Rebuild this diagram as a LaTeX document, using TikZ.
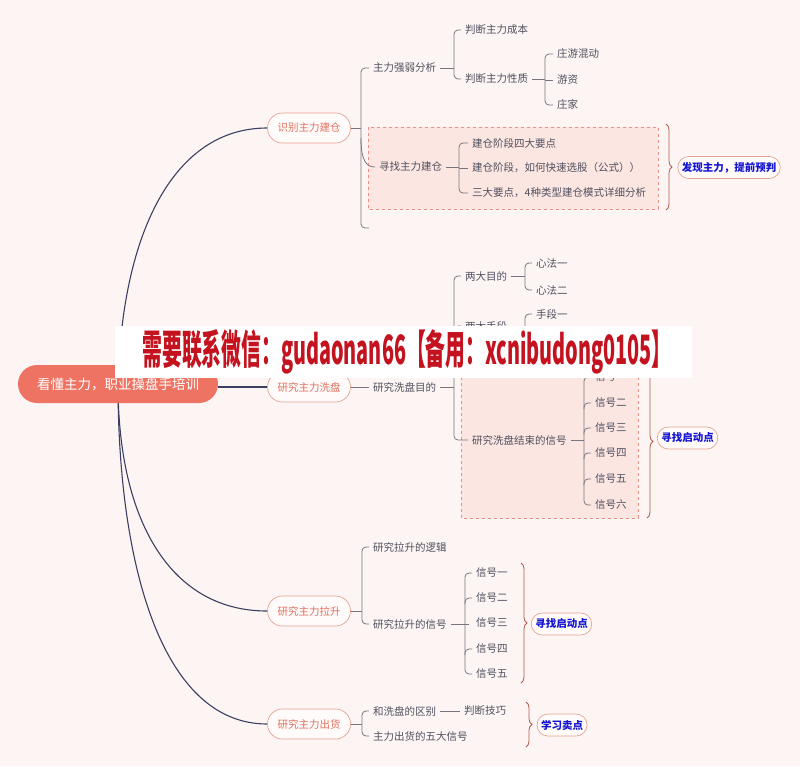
\documentclass[tikz,border=0pt]{standalone}
\usepackage{fontspec}
\setmainfont{Noto Sans CJK SC}
\usetikzlibrary{calc,decorations.pathreplacing}
\pgfdeclarelayer{bgfill}\pgfdeclarelayer{boxes}\pgfdeclarelayer{edges}\pgfdeclarelayer{front}
\pgfsetlayers{bgfill,boxes,edges,main,front}
\definecolor{bg}{HTML}{FDF5F3}
\definecolor{rootc}{HTML}{EE7363}
\definecolor{lonec}{HTML}{E8A292}
\definecolor{lonet}{HTML}{E2715F}
\definecolor{navy}{HTML}{3C3F62}
\definecolor{txt}{HTML}{4F4F5F}
\definecolor{lnk}{HTML}{77767F}
\definecolor{boxf}{HTML}{FCE6E2}
\definecolor{boxd}{HTML}{EA8F84}
\definecolor{brc}{HTML}{B65A4C}
\definecolor{blu}{HTML}{1414D2}
\definecolor{banr}{HTML}{C4121F}
\begin{document}
\begin{tikzpicture}[x=1pt,y=-1pt,
 rootbox/.style={rounded corners=19pt, fill=rootc, text=white, font=\fontsize{13.5}{15}\selectfont, minimum width=200, minimum height=38, inner sep=0pt},
 lone/.style={rounded corners=15pt, draw=lonec, fill=white!60!bg, text=lonet, line width=0.7pt, font=\fontsize{10.5}{12}\selectfont, minimum width=83, minimum height=30, inner sep=0pt},
 leaf/.style={anchor=west, inner xsep=4pt, inner ysep=1.5pt, text=txt, font=\fontsize{10.5}{12}\selectfont},
 tag/.style={rounded corners=11pt, draw=lonec, fill=white!60!bg, text=blu, font=\bfseries\fontsize{10.5}{12}\selectfont, line width=0.7pt, minimum height=22, inner xsep=4pt, inner ysep=0pt},
 mainln/.style={draw=navy, line width=1.1pt},
 subln/.style={draw=lnk, line width=0.8pt, rounded corners=4pt},
 dbox/.style={draw=boxd, fill=boxf, dashed, line width=0.8pt},
 bracestyle/.style={draw=brc, line width=0.8pt, decorate, decoration={brace, amplitude=6pt}},
]
\begin{pgfonlayer}{bgfill}
\fill[bg] (0,0) rectangle (800,766);
\end{pgfonlayer}
\useasboundingbox (0,0) rectangle (800,766);

% root and level-1
\node[rootbox] (root) at (118,384) {看懂主力，职业操盘手培训};
\node[lone] (n1) at (309,128) {识别主力建仓};
\node[lone] (n2) at (309,387) {研究主力洗盘};
\node[lone] (n3) at (309,611) {研究主力拉升};
\node[lone] (n4) at (309,724) {研究主力出货};

% branch 1
\node[leaf] (a1) at (369,68) {主力强弱分析};
\node[leaf] (a2) at (375,167) {寻找主力建仓};
\node[leaf] (a11) at (461,30) {判断主力成本};
\node[leaf] (a12) at (461,79) {判断主力性质};
\node[leaf] (a121) at (553,54) {庄游混动};
\node[leaf] (a122) at (553,80) {游资};
\node[leaf] (a123) at (553,105) {庄家};
\node[leaf] (a21) at (468,143) {建仓阶段四大要点};
\node[leaf] (a22) at (468,168) {建仓阶段，如何快速选股（公式））};
\node[leaf] (a23) at (468,193) {三大要点，4种类型建仓模式详细分析};

% branch 2
\node[leaf] (b1) at (369,387) {研究洗盘目的};
\node[leaf] (b11) at (461,276) {两大目的};
\node[leaf] (b12) at (461,326) {两大手段};
\node[leaf] (b13) at (468,440) {研究洗盘结束的信号};
\node[leaf] (b111) at (532,263) {心法一};
\node[leaf] (b112) at (532,290) {心法二};
\node[leaf] (b121) at (532,314) {手段一};
\node[leaf] (b131) at (591,377) {信号一};
\node[leaf] (b132) at (591,403) {信号二};
\node[leaf] (b133) at (591,428) {信号三};
\node[leaf] (b134) at (591,453) {信号四};
\node[leaf] (b135) at (591,479) {信号五};
\node[leaf] (b136) at (591,505) {信号六};

% branch 3
\node[leaf] (c1) at (369,547) {研究拉升的逻辑};
\node[leaf] (c2) at (369,624) {研究拉升的信号};
\node[leaf] (c21) at (472,573) {信号一};
\node[leaf] (c22) at (472,598) {信号二};
\node[leaf] (c23) at (472,623) {信号三};
\node[leaf] (c24) at (472,649) {信号四};
\node[leaf] (c25) at (472,674) {信号五};

% branch 4
\node[leaf] (d1) at (369,711) {和洗盘的区别};
\node[leaf] (d2) at (369,736) {主力出货的五大信号};
\node[leaf] (d11) at (460,711) {判断技巧};

% tags
\node[tag] (t1) at (729,167.5) {发现主力，提前预判};
\node[tag] (t2) at (687.5,438) {寻找启动点};
\node[tag] (t3) at (561.5,624) {寻找启动点};
\node[tag] (t4) at (562,725) {学习卖点};

% dashed boxes
\begin{pgfonlayer}{boxes}
\draw[dbox] (368,127) rectangle (658,209);
\draw[dbox] (461,365) rectangle (638,518);
\end{pgfonlayer}

\begin{pgfonlayer}{edges}
% main curves
\draw[mainln] (root.center) .. controls (122,230) and (175,128) .. (n1.west);
\draw[mainln] (root.east |- n2.west) -- (n2.west);
\draw[mainln] (root.center) .. controls (118,520) and (170,611) .. (n3.west);
\draw[mainln] (root.center) .. controls (118,560) and (160,724) .. (n4.west);

% branch 1 brackets
\coordinate (k1) at (361,128);
\coordinate (k1end) at (369,228);
\draw[subln] (n1.east) -- (k1);
\draw[subln] (a1.west) -| (k1) |- (k1end);
\draw[subln] ($(k1)+(0,10)$) .. controls ($(k1)+(0,34)$) and ($(a2.west)+(-8,0)$) .. (a2.west);
\coordinate (k2) at (454,68);
\draw[subln] (a1.east) -- (k2);
\draw[subln] (a11.west) -| (k2) |- (a12.west);
\coordinate (k3) at (545,79);
\draw[subln] (a12.east) -- (k3);
\draw[subln] (a121.west) -| (k3) |- (a123.west);
\draw[subln] (a122.west) -- (k3 |- a122.west);
\coordinate (k4) at (459,167);
\draw[subln] (a2.east) -- (k4);
\draw[subln] (a21.west) -| (k4) |- (a23.west);
\draw[subln] (a22.west) -- (k4 |- a22.west);

% branch 2 brackets
\draw[subln] (n2.east) -- (b1.west);
\coordinate (k5) at (454,387);
\draw[subln] (b1.east) -- (k5);
\draw[subln] (b11.west) -| (k5) |- (b13.west);
\draw[subln] (b12.west) -| ($(k5 |- b12.west)+(0,6)$);
\coordinate (k6) at (525,276);
\draw[subln] (b11.east) -- (k6);
\draw[subln] (b111.west) -| (k6) |- (b112.west);
\coordinate (k7) at (525,326);
\draw[subln] (b12.east) -- (k7);
\draw[subln] (b121.west) -| (k7) -- ++(0,14);
\coordinate (k8) at (584,440);
\draw[subln] (b13.east) -- (k8);
\draw[subln] (b131.west) -| (k8) |- (b136.west);
\foreach \n in {b132,b133,b134,b135}
  \draw[subln] (\n.west) -| ($(k8 |- \n.west)+(0,6)$);

% branch 3 brackets
\coordinate (k9) at (362,611);
\draw[subln] (n3.east) -- (k9);
\draw[subln] (c1.west) -| (k9) |- (c2.west);
\coordinate (k10) at (465,624);
\draw[subln] (c2.east) -- ($(k10)+(4,0)$);
\draw[subln] (c21.west) -| (k10) |- (c25.west);
\foreach \n in {c22,c24}
  \draw[subln] (\n.west) -| ($(k10 |- \n.west)+(0,6)$);

% branch 4 brackets
\coordinate (k11) at (362,724);
\draw[subln] (n4.east) -- (k11);
\draw[subln] (d1.west) -| (k11) |- (d2.west);
\draw[subln] (d1.east) -- (d11.west);

% braces
\coordinate (r1a) at (666,124); \coordinate (r1b) at (666,210);
\draw[bracestyle] (r1a) -- (r1b);
\coordinate (r2a) at (647,365); \coordinate (r2b) at (647,518);
\draw[bracestyle] (r2a) -- (r2b);
\coordinate (r3a) at (521,563); \coordinate (r3b) at (521,683);
\draw[bracestyle] (r3a) -- (r3b);
\coordinate (r4a) at (526,702); \coordinate (r4b) at (526,747);
\draw[bracestyle] (r4a) -- (r4b);
\end{pgfonlayer}

% overlay banner
\begin{pgfonlayer}{front}
\node[fill=white, minimum width=577, minimum height=52, inner sep=0pt] (banner) at (403.5,352) {};
\node[text=banr, inner sep=0pt] (bannertext) at (407,352) {\resizebox{529pt}{35pt}{\bfseries 需要联系微信：gudaonan66【备用：xcnibudong0105】}};
\end{pgfonlayer}
\end{tikzpicture}
\end{document}
